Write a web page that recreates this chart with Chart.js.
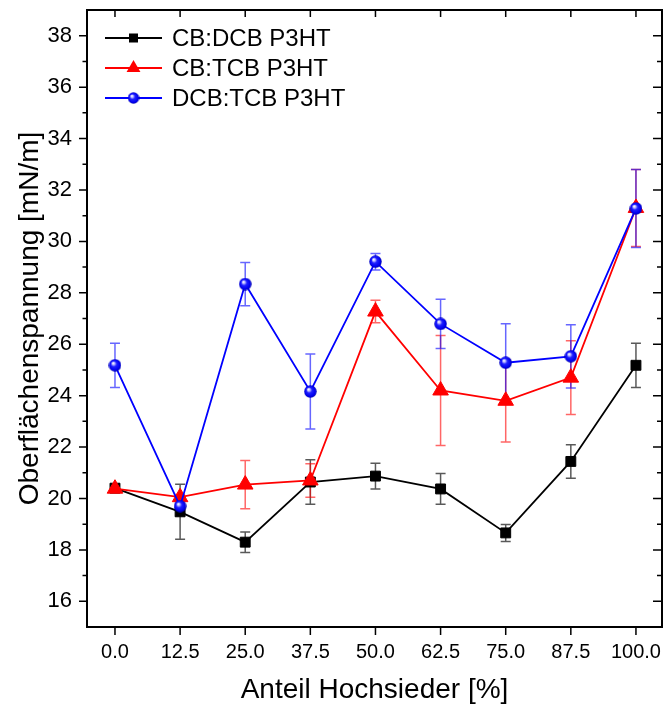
<!DOCTYPE html>
<html><head><meta charset="utf-8">
<script src="https://cdn.jsdelivr.net/npm/chart.js@4.4.0/dist/chart.umd.min.js"></script>
<style>html,body{margin:0;padding:0;background:#fff;overflow:hidden}#wrap{width:665px;height:704px;position:relative}</style>
</head><body><div id="wrap"><canvas id="c" width="665" height="704"></canvas></div>
<script>
// ---- data ----
const xValues = [0, 12.5, 25, 37.5, 50, 62.5, 75, 87.5, 100];
const xTickLabels = ['0.0','12.5','25.0','37.5','50.0','62.5','75.0','87.5','100.0'];
const yTicks = [16, 18, 20, 22, 24, 26, 28, 30, 32, 34, 36, 38];
const seriesNames = ['CB:DCB P3HT', 'CB:TCB P3HT', 'DCB:TCB P3HT'];
const cbDcb     = [20.40, 19.48, 18.30, 20.64, 20.87, 20.37, 18.66, 21.44, 25.18];
const cbDcbErr  = [0.15, 1.07, 0.40, 0.87, 0.50, 0.60, 0.33, 0.65, 0.86];
const cbTcb     = [20.38, 20.05, 20.54, 20.70, 27.27, 24.20, 23.80, 24.70, 31.30];
const cbTcbErr  = [0.10, 0.10, 0.94, 0.65, 0.44, 2.14, 1.60, 1.43, 1.50];
const dcbTcb    = [25.18, 19.70, 28.34, 24.16, 29.21, 26.79, 25.28, 25.53, 31.28];
const dcbTcbErr = [0.86, 0.12, 0.84, 1.46, 0.32, 0.96, 1.52, 1.23, 1.52];

Chart.defaults.font.family = "'Liberation Sans', Arial, sans-serif";
Chart.defaults.color = '#000';

function makeSphere(d) {
  const c = document.createElement('canvas');
  c.width = d; c.height = d;
  const g = c.getContext('2d');
  const r = d / 2;
  const grad = g.createRadialGradient(r - r*0.3, r - r*0.35, r*0.05, r, r, r);
  grad.addColorStop(0, '#ffffff');
  grad.addColorStop(0.18, '#b8b8ff');
  grad.addColorStop(0.4, '#2020ff');
  grad.addColorStop(0.8, '#0000ee');
  grad.addColorStop(1, '#0000a0');
  g.fillStyle = grad;
  g.beginPath(); g.arc(r, r, r - 0.3, 0, Math.PI*2); g.fill();
  return c;
}
const sphereBig = makeSphere(13);
const sphereSmall = makeSphere(12);

const pts = (ys) => ys.map((v, i) => ({x: xValues[i], y: v}));
const errSets = [cbDcbErr, cbTcbErr, dcbTcbErr];
const errColors = ['rgba(0,0,0,0.65)', 'rgba(255,0,0,0.6)', 'rgba(0,0,255,0.6)'];

const errorBarPlugin = {
  id: 'errorBars',
  beforeDatasetsDraw(chart) {
    const {ctx, scales: {x, y}} = chart;
    ctx.save();
    ctx.lineWidth = 1.5;
    chart.data.datasets.forEach((ds, i) => {
      const errs = errSets[i];
      ctx.strokeStyle = errColors[i];
      ds.data.forEach((p, j) => {
        const px = x.getPixelForValue(p.x);
        const yt = y.getPixelForValue(p.y + errs[j]);
        const yb = y.getPixelForValue(p.y - errs[j]);
        ctx.beginPath();
        ctx.moveTo(px, yt); ctx.lineTo(px, yb);
        ctx.moveTo(px - 5, yt); ctx.lineTo(px + 5, yt);
        ctx.moveTo(px - 5, yb); ctx.lineTo(px + 5, yb);
        ctx.stroke();
      });
    });
    ctx.restore();
  }
};

const framePlugin = {
  id: 'frame',
  afterDatasetsDraw(chart) {
    const {ctx, chartArea: a, scales: {x, y}} = chart;
    ctx.save();
    ctx.strokeStyle = '#000';
    ctx.lineWidth = 1.5;
    ctx.beginPath();
    xValues.forEach(v => {
      const px = x.getPixelForValue(v);
      ctx.moveTo(px, a.bottom); ctx.lineTo(px, a.bottom + 8);
      ctx.moveTo(px, a.top); ctx.lineTo(px, a.top + 7);
    });
    yTicks.forEach((v, i) => {
      const py = y.getPixelForValue(v);
      ctx.moveTo(a.left, py); ctx.lineTo(a.left - 8, py);
      ctx.moveTo(a.right, py); ctx.lineTo(a.right - 9, py);
      if (i < yTicks.length - 1) {
        const pm = y.getPixelForValue((v + yTicks[i+1]) / 2);
        ctx.moveTo(a.left, pm); ctx.lineTo(a.left - 4.5, pm);
        ctx.moveTo(a.right, pm); ctx.lineTo(a.right - 5, pm);
      }
    });
    ctx.stroke();
    ctx.lineWidth = 2;
    ctx.strokeRect(a.left, a.top, a.right - a.left, a.bottom - a.top);
    ctx.restore();
  }
};

const legendPlugin = {
  id: 'customLegend',
  afterDraw(chart) {
    const ctx = chart.ctx;
    const rows = [38, 68, 98];
    const x0 = 105, x1 = 162, xm = 133.5, tx = 172;
    ctx.save();
    chart.data.datasets.forEach((ds, i) => {
      const yy = rows[i];
      ctx.strokeStyle = ds.borderColor; ctx.lineWidth = 1.8;
      ctx.beginPath(); ctx.moveTo(x0, yy); ctx.lineTo(x1, yy); ctx.stroke();
      ctx.fillStyle = ds.borderColor;
      if (i === 0) {
        ctx.fillRect(xm - 4.5, yy - 4.5, 9, 9);
      } else if (i === 1) {
        const r = 8;
        ctx.beginPath();
        ctx.moveTo(xm, yy - r);
        ctx.lineTo(xm + r*0.866, yy + r/2);
        ctx.lineTo(xm - r*0.866, yy + r/2);
        ctx.closePath(); ctx.fill();
      } else {
        ctx.drawImage(sphereSmall, xm - 6, yy - 6);
      }
      ctx.fillStyle = '#000';
      ctx.font = "24px 'Liberation Sans', Arial, sans-serif";
      ctx.textBaseline = 'middle';
      ctx.textAlign = 'left';
      ctx.fillText(ds.label, tx, yy + 1);
    });
    ctx.restore();
  }
};

const zeroPad = s => { s.paddingLeft = 0; s.paddingRight = 0; s.paddingTop = 0; s.paddingBottom = 0; };

new Chart(document.getElementById('c'), {
  type: 'line',
  data: {
    datasets: [
      { label: seriesNames[0], data: pts(cbDcb), borderColor: '#000000', backgroundColor: '#000000',
        borderWidth: 1.8, pointStyle: 'rect', pointRadius: 7, pointBorderWidth: 1, order: 3 },
      { label: seriesNames[1], data: pts(cbTcb), borderColor: '#ff0000', backgroundColor: '#ff0000',
        borderWidth: 1.8, pointStyle: 'triangle', pointRadius: 9, pointBorderWidth: 1, order: 2 },
      { label: seriesNames[2], data: pts(dcbTcb), borderColor: '#0000ff', backgroundColor: '#0000ff',
        borderWidth: 1.8, pointStyle: sphereBig, pointRadius: 6.5, order: 1 }
    ]
  },
  options: {
    responsive: false,
    animation: false,
    devicePixelRatio: 1,
    layout: { autoPadding: false, padding: { top: 10, right: 3, left: 0, bottom: 0 } },
    plugins: { legend: { display: false }, tooltip: { enabled: false } },
    elements: { line: { tension: 0 } },
    scales: {
      x: {
        type: 'linear', min: -5.37, max: 105,
        afterBuildTicks: s => { s.ticks = xValues.map(v => ({value: v})); },
        ticks: { callback: (v) => xTickLabels[xValues.indexOf(v)], font: { size: 20 }, color: '#000',
                 padding: 0, maxRotation: 0, autoSkip: false },
        grid: { display: false, drawTicks: true, tickLength: 13 },
        border: { display: false },
        title: { display: true, text: 'Anteil Hochsieder [%]', font: { size: 28, lineHeight: 1 }, color: '#000', padding: 0 },
        afterFit: s => { s.height = 77; zeroPad(s); }
      },
      y: {
        type: 'linear', min: 15, max: 39,
        afterBuildTicks: s => { s.ticks = yTicks.map(v => ({value: v})); },
        ticks: { font: { size: 22 }, color: '#000', padding: 0 },
        grid: { display: false, drawTicks: true, tickLength: 15 },
        border: { display: false },
        title: { display: true, text: 'Oberflächenspannung [mN/m]', font: { size: 28, lineHeight: 1 }, color: '#000', padding: { top: 16, bottom: 0 } },
        afterFit: s => { s.width = 87; zeroPad(s); }
      }
    }
  },
  plugins: [errorBarPlugin, framePlugin, legendPlugin]
});
</script>
</body></html>
